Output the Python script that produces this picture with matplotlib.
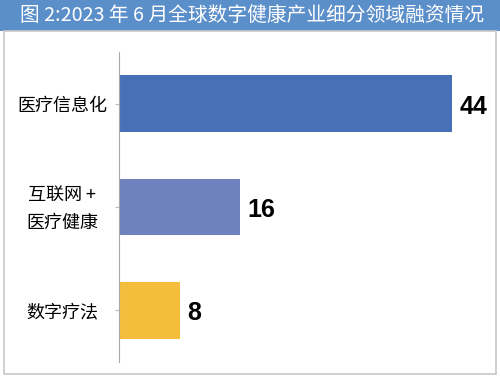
import matplotlib.pyplot as plt
from matplotlib.patches import Rectangle

plt.rcParams['font.family'] = ['Noto Sans CJK SC', 'DejaVu Sans']

# data
categories = ['医疗信息化', '互联网 +\n医疗健康', '数字疗法']
values = [44, 16, 8]
colors = ['#4870b6', '#7082be', '#f4be3c']
title = '图 2:2023 年 6 月全球数字健康产业细分领域融资情况'

fig = plt.figure(figsize=(5, 3.78), dpi=100)

# title band and frame
fig.patches.append(Rectangle((0, 1 - 31 / 378), 1, 31 / 378, transform=fig.transFigure,
                             facecolor='#5b8fca', edgecolor='none', zorder=0))
fig.patches.append(Rectangle((4 / 500, 4 / 378), 492 / 500, 343 / 378,
                             transform=fig.transFigure, facecolor='none',
                             edgecolor='#c8c8c8', lw=1.2, zorder=0))
fig.text(0.505, 1 - 16 / 378, title, color='white', fontsize=14.2,
         ha='center', va='center')

ax = fig.add_axes([119 / 500, 16 / 378, 363 / 500, 310 / 378])
ax.barh(range(len(values)), values, height=0.55, color=colors)
ax.set_xlim(0, 48)
ax.set_ylim(2.5, -0.5)
ax.set_yticks(range(len(values)))
ax.set_yticklabels([])
ax.set_xticks([])
for s in ['top', 'right', 'bottom']:
    ax.spines[s].set_visible(False)
ax.spines['left'].set_color('#a8a8a8')
ax.tick_params(axis='y', length=3, color='#bbbbbb')

# category labels, centred in the left margin
for i, c in enumerate(categories):
    ax.text(-0.157, i + 0.02, c, transform=ax.get_yaxis_transform(), fontsize=13,
            ha='center', va='center', linespacing=1.75)

for i, v in enumerate(values):
    ax.text(v + 1.0, i + 0.03, str(v), fontsize=18, fontweight='bold',
            va='center', ha='left', family='Liberation Sans')

fig.savefig('out.png', dpi=100)
